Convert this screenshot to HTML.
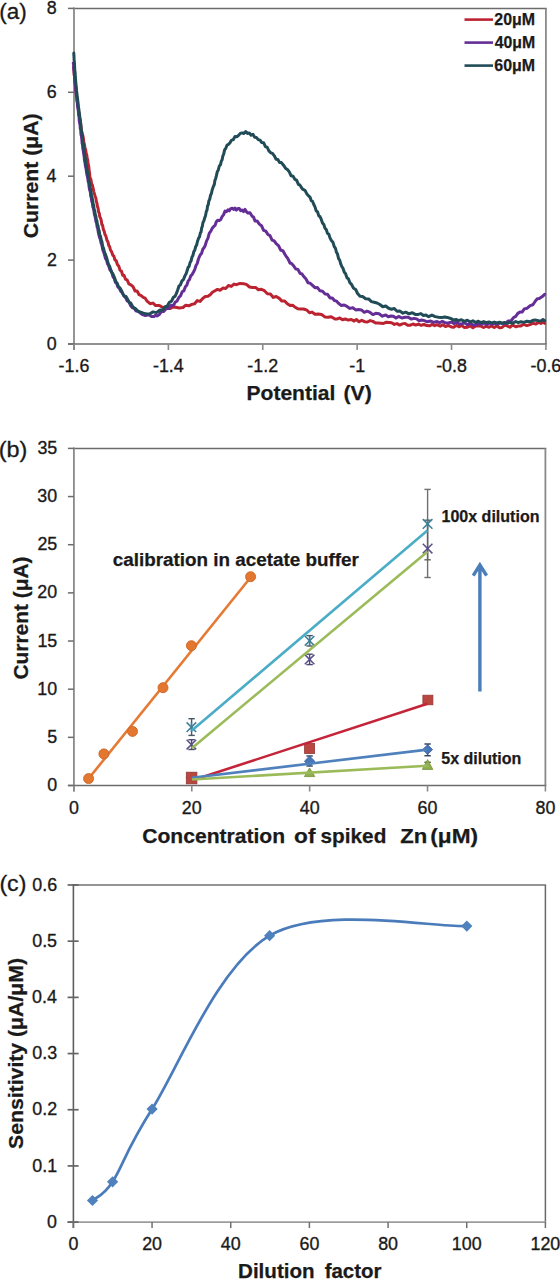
<!DOCTYPE html>
<html><head><meta charset="utf-8"><style>
html,body{margin:0;padding:0;background:#fff;overflow:hidden;width:560px;height:1280px;}
svg{display:block;}
text{font-family:"Liberation Sans",sans-serif;}
</style></head><body>
<svg width="560" height="1280" viewBox="0 0 560 1280" font-family="Liberation Sans, sans-serif">
<rect width="560" height="1280" fill="#fff"/>
<line x1="73.20" y1="8.40" x2="546.80" y2="8.40" stroke="#6c6c6c" stroke-width="1.5" />
<line x1="545.90" y1="8.40" x2="545.90" y2="344.00" stroke="#8a8a8a" stroke-width="1.8" />
<line x1="74.00" y1="7.60" x2="74.00" y2="350.00" stroke="#8a8a8a" stroke-width="1.8" />
<line x1="68.00" y1="344.00" x2="546.80" y2="344.00" stroke="#6c6c6c" stroke-width="1.6" />
<line x1="68.00" y1="344.00" x2="74.00" y2="344.00" stroke="#6c6c6c" stroke-width="1.5" />
<text x="46.77" y="349.60" font-size="18.9" font-weight="normal" textLength="9.93" lengthAdjust="spacingAndGlyphs" fill="#1a1a1a" stroke="#1a1a1a" stroke-width="0.35">0</text>
<line x1="68.00" y1="260.10" x2="74.00" y2="260.10" stroke="#6c6c6c" stroke-width="1.5" />
<text x="46.96" y="265.70" font-size="18.9" font-weight="normal" textLength="9.93" lengthAdjust="spacingAndGlyphs" fill="#1a1a1a" stroke="#1a1a1a" stroke-width="0.35">2</text>
<line x1="68.00" y1="176.20" x2="74.00" y2="176.20" stroke="#6c6c6c" stroke-width="1.5" />
<text x="46.59" y="181.80" font-size="18.9" font-weight="normal" textLength="9.93" lengthAdjust="spacingAndGlyphs" fill="#1a1a1a" stroke="#1a1a1a" stroke-width="0.35">4</text>
<line x1="68.00" y1="92.30" x2="74.00" y2="92.30" stroke="#6c6c6c" stroke-width="1.5" />
<text x="46.86" y="97.90" font-size="18.9" font-weight="normal" textLength="9.93" lengthAdjust="spacingAndGlyphs" fill="#1a1a1a" stroke="#1a1a1a" stroke-width="0.35">6</text>
<line x1="68.00" y1="8.40" x2="74.00" y2="8.40" stroke="#6c6c6c" stroke-width="1.5" />
<text x="46.84" y="14.00" font-size="18.9" font-weight="normal" textLength="9.93" lengthAdjust="spacingAndGlyphs" fill="#1a1a1a" stroke="#1a1a1a" stroke-width="0.35">8</text>
<line x1="74.00" y1="344.00" x2="74.00" y2="350.00" stroke="#8a8a8a" stroke-width="1.6" />
<text x="58.61" y="372.10" font-size="18.9" font-weight="normal" textLength="30.78" lengthAdjust="spacingAndGlyphs" fill="#1a1a1a" stroke="#1a1a1a" stroke-width="0.35">-1.6</text>
<line x1="168.38" y1="344.00" x2="168.38" y2="350.00" stroke="#8a8a8a" stroke-width="1.6" />
<text x="152.99" y="372.10" font-size="18.9" font-weight="normal" textLength="30.78" lengthAdjust="spacingAndGlyphs" fill="#1a1a1a" stroke="#1a1a1a" stroke-width="0.35">-1.4</text>
<line x1="262.76" y1="344.00" x2="262.76" y2="350.00" stroke="#8a8a8a" stroke-width="1.6" />
<text x="247.37" y="372.10" font-size="18.9" font-weight="normal" textLength="30.78" lengthAdjust="spacingAndGlyphs" fill="#1a1a1a" stroke="#1a1a1a" stroke-width="0.35">-1.2</text>
<line x1="357.14" y1="344.00" x2="357.14" y2="350.00" stroke="#8a8a8a" stroke-width="1.6" />
<text x="349.20" y="372.10" font-size="18.9" font-weight="normal" textLength="15.88" lengthAdjust="spacingAndGlyphs" fill="#1a1a1a" stroke="#1a1a1a" stroke-width="0.35">-1</text>
<line x1="451.52" y1="344.00" x2="451.52" y2="350.00" stroke="#8a8a8a" stroke-width="1.6" />
<text x="436.13" y="372.10" font-size="18.9" font-weight="normal" textLength="30.78" lengthAdjust="spacingAndGlyphs" fill="#1a1a1a" stroke="#1a1a1a" stroke-width="0.35">-0.8</text>
<line x1="545.90" y1="344.00" x2="545.90" y2="350.00" stroke="#8a8a8a" stroke-width="1.6" />
<text x="530.51" y="372.10" font-size="18.9" font-weight="normal" textLength="30.78" lengthAdjust="spacingAndGlyphs" fill="#1a1a1a" stroke="#1a1a1a" stroke-width="0.35">-0.6</text>
<polyline points="73.6,67.0 73.8,70.1 74.0,70.8 74.2,74.8 74.5,76.1 74.8,78.6 75.1,82.7 75.5,84.5 75.8,89.8 76.2,92.2 76.6,94.2 76.9,96.8 77.2,100.7 77.6,102.1 78.0,106.1 78.3,107.6 78.7,111.6 79.1,113.4 79.5,115.7 79.9,119.8 80.3,123.1 80.8,124.2 81.2,128.4 81.6,130.7 82.1,133.8 82.7,135.1 83.3,137.8 83.8,142.6 84.4,144.1 85.0,148.1 85.6,149.4 86.2,153.7 86.7,154.6 87.2,158.7 87.6,159.3 88.1,163.6 88.5,165.1 88.9,167.7 89.2,171.4 89.5,172.1 89.8,176.3 90.3,178.5 90.9,179.4 91.6,183.8 92.3,184.8 93.0,187.8 93.8,191.6 94.5,194.1 95.2,196.5 95.8,197.6 96.4,201.8 96.9,202.9 97.5,206.7 98.0,207.9 98.6,211.9 99.2,212.9 99.8,216.7 100.5,217.9 101.2,220.2 101.9,224.8 102.6,225.3 103.3,229.3 104.1,231.0 105.0,234.6 105.9,236.0 106.9,240.1 107.9,241.7 108.8,245.6 109.7,246.7 110.4,250.0 111.6,251.7 112.9,255.5 113.8,255.8 114.9,259.8 116.2,260.8 117.5,264.8 118.8,266.1 120.0,270.2 121.4,271.0 122.7,275.2 124.1,275.5 125.5,279.3 127.1,279.9 128.9,283.9 130.9,284.8 133.0,286.7 135.1,291.0 137.1,291.0 139.1,294.7 141.2,295.6 143.2,297.3 145.2,298.2 147.1,301.2 150.1,303.7 153.0,303.1 155.7,305.6 159.4,305.4 162.9,307.6 166.5,306.8 170.0,308.6 172.8,306.9 175.7,307.3 179.2,307.9 183.0,307.5 185.8,305.2 188.9,305.8 191.8,304.4 194.6,303.7 197.3,300.6 200.0,301.4 202.7,298.4 205.3,296.6 207.9,296.3 210.2,294.7 212.4,292.2 215.0,290.7 217.4,289.4 220.1,290.2 222.9,288.1 225.7,288.5 228.5,285.5 231.3,286.4 234.0,284.1 236.4,284.7 240.1,283.4 243.6,283.7 246.4,284.4 249.5,287.0 252.5,287.4 255.5,287.4 258.4,289.7 261.4,289.3 264.4,290.7 267.4,293.7 270.4,294.1 273.3,297.4 276.2,296.5 279.3,298.4 281.9,301.1 284.6,301.0 287.3,303.8 290.0,305.4 292.6,305.2 295.2,307.3 297.7,308.8 300.0,308.9 303.6,309.0 307.0,310.2 309.5,312.8 312.1,312.1 315.0,314.3 318.2,314.0 321.6,314.6 325.0,316.9 328.1,317.3 331.2,316.7 335.0,319.0 337.3,318.9 339.8,317.9 342.5,319.8 345.3,319.0 348.3,320.1 351.4,319.6 353.8,321.1 356.4,319.5 359.1,321.8 361.8,320.3 364.6,321.7 367.4,322.0 370.2,320.6 372.9,321.4 375.6,323.0 378.3,323.1 380.9,323.2 383.6,323.4 386.3,322.2 389.0,322.4 391.6,322.8 394.3,324.4 397.0,323.6 399.7,325.1 402.3,323.9 405.0,323.4 407.7,325.2 410.4,325.2 413.0,324.0 415.7,325.1 418.4,324.1 421.2,325.3 424.0,324.5 426.8,325.6 429.5,325.8 432.2,324.4 434.7,325.7 437.0,324.7 440.2,326.2 442.9,324.7 445.5,326.6 448.2,325.4 451.4,326.9 453.7,327.3 456.3,325.4 458.9,326.8 461.7,325.4 464.5,327.6 467.4,327.3 470.2,325.7 472.9,327.7 475.6,326.0 478.3,325.8 480.9,326.1 483.6,327.5 486.3,326.1 489.0,327.3 491.6,325.9 494.3,327.6 496.9,325.8 499.5,327.8 502.0,327.4 504.5,325.4 507.1,325.9 509.8,327.2 512.7,325.0 515.7,326.8 518.2,326.1 520.9,325.9 523.8,324.3 526.9,325.6 530.0,324.6 533.0,323.2 535.9,324.1 538.6,322.3 541.0,323.4 543.0,322.3 544.6,323.3" fill="none" stroke="#bc2330" stroke-width="3.0" stroke-linejoin="round" stroke-linecap="round" />
<polyline points="73.3,63.0 73.4,63.2 73.6,64.8 73.8,68.6 74.0,69.9 74.3,74.1 74.5,76.1 74.8,81.0 75.1,84.0 75.5,86.2 75.8,90.3 76.1,91.9 76.3,95.9 76.6,96.9 76.9,100.6 77.3,102.7 77.6,106.9 77.9,108.3 78.3,110.7 78.6,115.4 79.0,116.4 79.3,121.1 79.7,123.2 80.0,124.6 80.3,128.7 80.7,129.9 81.0,134.8 81.4,135.8 81.8,139.0 82.1,143.5 82.5,144.6 82.8,148.5 83.2,150.2 83.5,152.6 83.9,155.0 84.2,157.0 84.5,160.7 85.0,162.6 85.5,166.6 85.9,167.7 86.4,171.4 86.8,174.1 87.3,176.0 87.7,177.6 88.2,181.5 88.7,183.0 89.2,187.6 89.7,190.3 90.3,191.8 90.8,196.5 91.3,197.7 91.8,201.6 92.3,202.3 92.8,206.8 93.3,208.0 93.9,210.6 94.4,214.4 94.9,215.8 95.5,218.3 96.0,221.8 96.6,222.9 97.1,226.9 97.7,228.2 98.3,232.3 98.9,234.9 99.6,237.6 100.3,239.1 101.0,242.8 101.6,244.2 102.2,246.8 102.8,249.9 103.8,252.4 104.5,254.7 105.5,258.6 106.5,259.8 107.5,263.7 108.7,265.8 110.0,270.1 111.0,270.5 112.0,272.9 113.1,277.1 114.2,278.2 115.3,282.2 116.5,283.1 117.9,286.9 119.4,288.3 120.9,291.5 122.4,292.9 123.8,295.9 125.5,297.5 127.3,301.0 128.9,301.7 130.5,305.5 132.4,307.7 134.2,308.1 136.0,310.9 138.9,311.8 142.0,314.4 145.3,315.6 148.6,314.7 151.5,316.5 154.0,316.6 155.6,315.2 157.1,316.0 159.0,314.8 161.4,311.5 163.7,311.4 166.3,308.5 168.6,308.4 171.2,305.3 173.6,305.4 175.3,302.0 177.0,301.2 178.9,297.3 180.5,295.9 182.2,291.8 183.8,290.9 185.4,286.8 186.8,285.3 188.1,281.1 189.4,279.7 190.7,275.9 192.1,274.4 193.5,272.0 194.8,269.3 196.1,265.2 197.2,263.5 198.3,259.5 199.3,256.9 200.4,254.6 201.6,253.4 202.8,249.2 204.0,247.7 205.0,246.0 206.6,240.9 207.9,238.4 209.3,233.2 210.7,231.4 212.2,228.3 213.6,226.6 215.0,225.4 216.4,221.6 217.9,220.2 219.3,220.6 220.7,219.6 222.1,216.7 223.5,214.9 225.0,211.1 226.5,211.7 227.9,209.8 229.3,210.8 230.7,208.6 232.2,208.3 233.6,209.4 235.0,208.0 236.4,210.1 237.9,208.4 239.3,208.5 240.7,210.8 242.1,210.0 243.5,211.6 245.0,209.4 246.4,211.7 247.9,213.1 250.0,212.8 252.1,216.2 253.5,217.1 255.0,220.9 257.1,220.9 259.3,224.1 261.5,225.7 263.6,230.3 265.8,231.1 267.9,234.5 270.0,235.6 272.1,240.1 274.2,240.9 276.4,243.9 278.5,245.6 280.7,250.2 282.8,250.6 285.0,254.5 286.4,256.6 287.9,258.7 290.0,263.0 291.7,263.7 293.6,265.8 295.8,269.0 297.9,269.4 300.0,273.3 302.0,274.0 304.0,276.8 306.0,279.0 308.0,282.7 310.0,283.1 312.5,285.3 315.0,287.7 317.5,287.6 320.0,290.8 322.5,291.2 325.1,294.0 327.6,294.3 330.0,297.9 332.3,298.0 334.4,300.5 336.5,301.1 338.6,303.4 341.4,305.5 344.2,305.0 347.0,306.4 349.9,308.4 352.8,307.8 355.7,309.9 358.6,309.5 361.4,309.9 364.3,312.3 367.0,311.2 369.7,312.2 372.9,314.6 375.8,313.3 379.0,313.7 382.4,316.2 385.7,314.9 388.3,316.7 390.9,316.0 393.4,316.2 396.0,318.1 398.6,316.4 401.8,318.0 405.0,317.3 408.2,317.2 411.4,319.1 414.0,318.4 416.6,318.9 419.1,320.8 421.7,320.0 424.3,320.6 427.4,321.8 430.6,321.0 433.7,322.4 437.0,321.5 439.7,322.7 442.3,321.3 445.0,322.7 448.0,323.0 451.4,322.1 453.7,323.6 456.3,322.0 458.9,323.7 461.7,323.9 464.5,322.8 467.4,324.7 470.2,323.1 472.9,325.0 475.6,325.0 478.4,323.4 481.3,324.4 484.1,322.9 486.8,324.9 489.5,322.8 492.0,324.3 494.3,323.3 497.6,324.0 500.6,322.8 503.3,323.4 505.8,323.4 508.0,321.0 511.0,321.0 513.3,317.8 515.7,316.4 517.8,313.4 519.9,312.1 522.1,312.1 524.3,308.9 527.2,308.2 530.2,305.6 532.9,304.8 535.2,301.3 537.3,298.8 539.3,298.6 542.3,296.6 544.6,294.4" fill="none" stroke="#652d96" stroke-width="3.0" stroke-linejoin="round" stroke-linecap="round" />
<polyline points="73.8,53.0 73.9,56.0 74.0,56.7 74.1,60.2 74.3,61.2 74.5,63.6 74.6,66.4 74.8,70.5 75.1,72.1 75.3,77.0 75.5,78.8 75.8,83.0 76.0,84.8 76.3,87.3 76.6,91.5 76.8,92.2 77.1,96.7 77.4,97.4 77.8,100.7 78.1,104.2 78.4,107.1 78.8,108.6 79.1,112.4 79.5,113.7 79.8,118.1 80.1,118.8 80.5,121.4 80.8,125.4 81.2,128.8 81.5,131.4 81.9,133.1 82.3,135.7 82.6,139.7 83.0,143.3 83.4,144.2 83.7,148.3 84.1,149.7 84.4,152.8 84.8,155.9 85.1,157.3 85.4,159.0 85.9,164.5 86.4,166.0 86.8,169.3 87.3,170.6 87.7,173.8 88.1,174.6 88.5,179.0 89.0,181.6 89.5,183.2 90.0,187.6 90.5,189.0 91.1,192.1 91.6,196.5 92.1,197.7 92.6,200.1 93.1,203.7 93.6,205.2 94.1,209.3 94.7,210.7 95.2,214.3 95.7,215.6 96.3,219.5 96.9,220.9 97.4,224.8 98.0,225.7 98.6,229.4 99.2,230.9 99.8,234.8 100.5,236.2 101.2,239.9 101.9,241.5 102.5,245.4 103.2,247.8 103.7,248.7 104.6,252.8 105.3,253.9 106.2,256.4 106.9,258.7 107.8,262.3 108.7,264.7 109.6,266.2 110.7,269.8 111.6,272.5 112.7,273.5 113.7,275.7 114.8,278.4 116.0,281.9 117.1,283.1 118.5,286.7 120.0,287.9 121.4,290.4 122.9,294.0 124.3,296.0 126.0,296.4 127.6,299.2 129.2,302.6 130.7,302.9 133.2,307.4 135.7,308.9 138.5,311.5 141.4,312.4 144.2,313.6 147.0,314.0 149.9,313.8 153.0,311.9 156.4,312.6 160.0,310.0 162.4,310.3 164.8,306.9 167.1,306.3 169.4,302.3 171.5,301.2 173.6,297.0 175.0,296.3 176.3,293.6 177.6,290.2 178.9,286.2 180.4,284.9 181.9,281.0 183.4,279.7 184.8,276.1 186.0,274.1 187.1,270.7 188.1,267.4 189.1,266.4 190.1,262.5 191.0,261.1 192.0,257.1 192.9,255.6 193.8,251.6 194.8,250.2 195.7,246.5 196.6,245.1 197.6,241.0 198.6,238.2 199.5,236.9 200.4,232.8 201.1,231.8 201.7,227.8 202.3,226.4 203.0,222.3 203.8,221.2 204.6,218.1 205.5,215.7 206.3,211.4 207.0,210.3 207.6,205.8 208.2,204.9 208.9,200.7 209.7,199.4 210.5,195.4 211.4,193.5 212.1,190.3 213.3,186.6 214.3,184.5 215.0,179.9 215.6,178.9 216.4,175.7 217.3,171.7 218.4,169.7 219.3,166.0 220.4,164.9 221.4,160.8 222.1,159.9 222.9,155.7 223.6,154.4 224.6,149.9 225.7,148.5 227.1,145.0 228.6,144.3 230.0,142.7 231.4,140.3 233.2,139.7 235.0,136.4 236.8,136.7 238.6,135.4 240.3,133.4 242.1,132.9 243.9,133.5 245.7,131.6 247.5,133.4 249.3,133.1 251.1,135.2 252.9,134.2 254.7,137.3 256.4,137.4 258.2,139.6 260.0,140.1 261.8,142.6 263.6,142.7 265.4,146.7 267.1,147.1 268.9,150.9 270.7,152.8 272.5,153.4 274.3,155.8 276.1,159.3 277.9,159.5 279.6,162.6 281.4,162.6 283.5,165.2 285.7,168.4 287.4,169.5 289.3,171.9 291.1,175.8 293.1,176.2 295.0,179.4 296.7,180.4 298.4,184.4 300.0,185.2 302.5,189.1 305.0,190.3 306.7,193.7 308.3,195.6 310.0,197.1 311.2,200.6 312.5,201.3 313.8,204.5 315.0,206.9 316.2,210.9 317.5,211.7 318.8,215.9 320.0,216.6 321.2,219.2 322.5,222.9 323.8,224.4 325.0,228.3 326.3,229.6 327.5,233.4 328.8,234.1 330.0,237.9 331.5,240.7 332.9,242.1 334.3,246.7 335.4,248.1 336.5,252.3 337.5,254.1 338.6,258.6 339.7,260.1 340.8,264.1 341.8,266.5 342.9,268.1 344.3,272.2 345.6,273.7 347.0,277.9 348.4,278.7 349.9,282.8 351.4,284.2 353.6,288.3 355.7,289.5 357.6,293.6 360.0,296.3 362.6,296.5 365.6,298.7 368.6,298.9 371.4,301.6 374.2,302.3 377.0,303.0 379.9,304.5 382.8,306.8 385.7,306.0 388.6,308.3 391.4,309.2 394.3,308.5 397.0,311.3 399.7,310.9 402.9,313.2 405.8,312.2 409.0,313.8 412.4,312.7 415.7,314.6 418.3,314.4 420.9,313.6 423.4,315.5 426.0,315.0 428.6,316.7 431.9,315.1 435.2,316.6 438.4,317.2 441.4,317.6 444.5,317.0 447.3,317.4 451.4,318.7 453.5,320.3 456.0,319.5 458.6,320.6 461.4,319.8 464.3,321.4 467.3,320.2 470.1,321.8 472.9,320.8 475.6,322.6 478.3,321.2 480.9,322.6 483.6,321.6 486.3,322.7 489.0,321.9 491.6,322.9 494.3,322.1 496.9,323.0 499.5,322.2 502.0,323.4 504.5,322.4 507.1,323.4 509.8,322.4 512.7,323.2 515.7,321.5 518.2,322.7 520.9,321.7 523.8,322.4 526.9,321.2 530.0,321.8 533.0,320.3 535.9,320.1 538.6,320.8 541.0,320.9 543.0,319.5 544.6,320.7" fill="none" stroke="#204b57" stroke-width="3.0" stroke-linejoin="round" stroke-linecap="round" />
<line x1="464.50" y1="19.60" x2="493.00" y2="19.60" stroke="#bc2330" stroke-width="2.6" />
<text x="494.34" y="24.60" font-size="16" font-weight="bold" textLength="40.73" lengthAdjust="spacingAndGlyphs" fill="#1a1a1a" stroke="#1a1a1a" stroke-width="0.25">20μM</text>
<line x1="464.50" y1="42.60" x2="493.00" y2="42.60" stroke="#652d96" stroke-width="2.6" />
<text x="494.66" y="47.60" font-size="16" font-weight="bold" textLength="40.40" lengthAdjust="spacingAndGlyphs" fill="#1a1a1a" stroke="#1a1a1a" stroke-width="0.25">40μM</text>
<line x1="464.50" y1="65.60" x2="493.00" y2="65.60" stroke="#204b57" stroke-width="2.6" />
<text x="494.31" y="70.60" font-size="16" font-weight="bold" textLength="40.76" lengthAdjust="spacingAndGlyphs" fill="#1a1a1a" stroke="#1a1a1a" stroke-width="0.25">60μM</text>
<text x="-0.69" y="18.60" font-size="22" font-weight="normal" textLength="27.49" lengthAdjust="spacingAndGlyphs" fill="#1a1a1a" stroke="#1a1a1a" stroke-width="0.3">(a)</text>
<text transform="translate(38.20,0) rotate(-90)" x="-238.37" y="0" font-size="20.6" font-weight="bold" textLength="125.04" lengthAdjust="spacingAndGlyphs" fill="#1a1a1a" stroke="#1a1a1a" stroke-width="0.25">Current (μA)</text>
<text x="246.49" y="400.30" font-size="20.6" font-weight="bold" textLength="88.90" lengthAdjust="spacingAndGlyphs" fill="#1a1a1a" stroke="#1a1a1a" stroke-width="0.25">Potential</text>
<text x="343.54" y="400.30" font-size="20.6" font-weight="bold" textLength="28.22" lengthAdjust="spacingAndGlyphs" fill="#1a1a1a" stroke="#1a1a1a" stroke-width="0.25">(V)</text>
<line x1="73.10" y1="448.40" x2="546.30" y2="448.40" stroke="#6c6c6c" stroke-width="1.5" />
<line x1="545.40" y1="448.40" x2="545.40" y2="785.50" stroke="#8a8a8a" stroke-width="1.8" />
<line x1="73.90" y1="447.60" x2="73.90" y2="791.50" stroke="#8a8a8a" stroke-width="1.8" />
<line x1="67.90" y1="785.50" x2="546.30" y2="785.50" stroke="#6c6c6c" stroke-width="1.6" />
<line x1="67.90" y1="785.50" x2="73.90" y2="785.50" stroke="#6c6c6c" stroke-width="1.5" />
<text x="47.27" y="791.10" font-size="18.9" font-weight="normal" textLength="9.93" lengthAdjust="spacingAndGlyphs" fill="#1a1a1a" stroke="#1a1a1a" stroke-width="0.35">0</text>
<line x1="67.90" y1="737.34" x2="73.90" y2="737.34" stroke="#6c6c6c" stroke-width="1.5" />
<text x="47.32" y="742.94" font-size="18.9" font-weight="normal" textLength="9.93" lengthAdjust="spacingAndGlyphs" fill="#1a1a1a" stroke="#1a1a1a" stroke-width="0.35">5</text>
<line x1="67.90" y1="689.19" x2="73.90" y2="689.19" stroke="#6c6c6c" stroke-width="1.5" />
<text x="37.34" y="694.79" font-size="18.9" font-weight="normal" textLength="19.87" lengthAdjust="spacingAndGlyphs" fill="#1a1a1a" stroke="#1a1a1a" stroke-width="0.35">10</text>
<line x1="67.90" y1="641.03" x2="73.90" y2="641.03" stroke="#6c6c6c" stroke-width="1.5" />
<text x="37.39" y="646.63" font-size="18.9" font-weight="normal" textLength="19.87" lengthAdjust="spacingAndGlyphs" fill="#1a1a1a" stroke="#1a1a1a" stroke-width="0.35">15</text>
<line x1="67.90" y1="592.87" x2="73.90" y2="592.87" stroke="#6c6c6c" stroke-width="1.5" />
<text x="37.34" y="598.47" font-size="18.9" font-weight="normal" textLength="19.87" lengthAdjust="spacingAndGlyphs" fill="#1a1a1a" stroke="#1a1a1a" stroke-width="0.35">20</text>
<line x1="67.90" y1="544.71" x2="73.90" y2="544.71" stroke="#6c6c6c" stroke-width="1.5" />
<text x="37.39" y="550.31" font-size="18.9" font-weight="normal" textLength="19.87" lengthAdjust="spacingAndGlyphs" fill="#1a1a1a" stroke="#1a1a1a" stroke-width="0.35">25</text>
<line x1="67.90" y1="496.56" x2="73.90" y2="496.56" stroke="#6c6c6c" stroke-width="1.5" />
<text x="37.34" y="502.16" font-size="18.9" font-weight="normal" textLength="19.87" lengthAdjust="spacingAndGlyphs" fill="#1a1a1a" stroke="#1a1a1a" stroke-width="0.35">30</text>
<line x1="67.90" y1="448.40" x2="73.90" y2="448.40" stroke="#6c6c6c" stroke-width="1.5" />
<text x="37.39" y="454.00" font-size="18.9" font-weight="normal" textLength="19.87" lengthAdjust="spacingAndGlyphs" fill="#1a1a1a" stroke="#1a1a1a" stroke-width="0.35">35</text>
<line x1="73.90" y1="785.50" x2="73.90" y2="791.50" stroke="#8a8a8a" stroke-width="1.6" />
<text x="68.93" y="814.10" font-size="18.9" font-weight="normal" textLength="9.93" lengthAdjust="spacingAndGlyphs" fill="#1a1a1a" stroke="#1a1a1a" stroke-width="0.35">0</text>
<line x1="191.78" y1="785.50" x2="191.78" y2="791.50" stroke="#8a8a8a" stroke-width="1.6" />
<text x="181.84" y="814.10" font-size="18.9" font-weight="normal" textLength="19.87" lengthAdjust="spacingAndGlyphs" fill="#1a1a1a" stroke="#1a1a1a" stroke-width="0.35">20</text>
<line x1="309.65" y1="785.50" x2="309.65" y2="791.50" stroke="#8a8a8a" stroke-width="1.6" />
<text x="299.72" y="814.10" font-size="18.9" font-weight="normal" textLength="19.87" lengthAdjust="spacingAndGlyphs" fill="#1a1a1a" stroke="#1a1a1a" stroke-width="0.35">40</text>
<line x1="427.52" y1="785.50" x2="427.52" y2="791.50" stroke="#8a8a8a" stroke-width="1.6" />
<text x="417.59" y="814.10" font-size="18.9" font-weight="normal" textLength="19.87" lengthAdjust="spacingAndGlyphs" fill="#1a1a1a" stroke="#1a1a1a" stroke-width="0.35">60</text>
<line x1="545.40" y1="785.50" x2="545.40" y2="791.50" stroke="#8a8a8a" stroke-width="1.6" />
<text x="535.47" y="814.10" font-size="18.9" font-weight="normal" textLength="19.87" lengthAdjust="spacingAndGlyphs" fill="#1a1a1a" stroke="#1a1a1a" stroke-width="0.35">80</text>
<line x1="88.60" y1="778.60" x2="251.10" y2="576.80" stroke="#e57a34" stroke-width="2.6" />
<circle cx="88.6" cy="778.6" r="5.0" fill="#e3772f" stroke="#cc6527" stroke-width="0.9"/>
<circle cx="103.9" cy="753.9" r="5.0" fill="#e3772f" stroke="#cc6527" stroke-width="0.9"/>
<circle cx="132.5" cy="731.4" r="5.0" fill="#e3772f" stroke="#cc6527" stroke-width="0.9"/>
<circle cx="163.0" cy="687.7" r="5.0" fill="#e3772f" stroke="#cc6527" stroke-width="0.9"/>
<circle cx="191.4" cy="645.7" r="5.0" fill="#e3772f" stroke="#cc6527" stroke-width="0.9"/>
<circle cx="250.6" cy="576.7" r="5.0" fill="#e3772f" stroke="#cc6527" stroke-width="0.9"/>
<line x1="191.60" y1="718.70" x2="191.60" y2="735.40" stroke="#4a5868" stroke-width="1.4" />
<line x1="188.40" y1="718.70" x2="194.80" y2="718.70" stroke="#4a5868" stroke-width="1.4" />
<line x1="188.40" y1="735.40" x2="194.80" y2="735.40" stroke="#4a5868" stroke-width="1.4" />
<line x1="186.60" y1="722.40" x2="196.20" y2="732.00" stroke="#3d7f95" stroke-width="1.5" />
<line x1="186.60" y1="732.00" x2="196.20" y2="722.40" stroke="#3d7f95" stroke-width="1.5" />
<line x1="191.40" y1="722.40" x2="191.40" y2="732.00" stroke="#3d7f95" stroke-width="1.5" />
<line x1="191.60" y1="739.70" x2="191.60" y2="749.50" stroke="#4a4a70" stroke-width="1.4" />
<line x1="188.40" y1="739.70" x2="194.80" y2="739.70" stroke="#4a4a70" stroke-width="1.4" />
<line x1="188.40" y1="749.50" x2="194.80" y2="749.50" stroke="#4a4a70" stroke-width="1.4" />
<line x1="186.60" y1="739.80" x2="196.20" y2="749.40" stroke="#5b4f8a" stroke-width="1.5" />
<line x1="186.60" y1="749.40" x2="196.20" y2="739.80" stroke="#5b4f8a" stroke-width="1.5" />
<path d="M191.4,775 l5.2,8.5 h-10.4z" fill="#9bbb59"/>
<path d="M191.4,772.5 l5,5 l-5,5 l-5,-5z" fill="#4f81bd" stroke="#35609a" stroke-width="0.8"/>
<rect x="186.3" y="772.2" width="10.6" height="11.6" fill="#b9473f" stroke="#933838" stroke-width="0.8"/>
<line x1="309.60" y1="635.60" x2="309.60" y2="646.00" stroke="#4a5868" stroke-width="1.4" />
<line x1="306.40" y1="635.60" x2="312.80" y2="635.60" stroke="#4a5868" stroke-width="1.4" />
<line x1="306.40" y1="646.00" x2="312.80" y2="646.00" stroke="#4a5868" stroke-width="1.4" />
<line x1="304.80" y1="636.00" x2="314.40" y2="645.60" stroke="#3d7f95" stroke-width="1.5" />
<line x1="304.80" y1="645.60" x2="314.40" y2="636.00" stroke="#3d7f95" stroke-width="1.5" />
<line x1="309.60" y1="636.00" x2="309.60" y2="645.60" stroke="#3d7f95" stroke-width="1.5" />
<line x1="309.60" y1="654.20" x2="309.60" y2="664.60" stroke="#4a4a70" stroke-width="1.4" />
<line x1="306.40" y1="654.20" x2="312.80" y2="654.20" stroke="#4a4a70" stroke-width="1.4" />
<line x1="306.40" y1="664.60" x2="312.80" y2="664.60" stroke="#4a4a70" stroke-width="1.4" />
<line x1="304.80" y1="654.60" x2="314.40" y2="664.20" stroke="#5b4f8a" stroke-width="1.5" />
<line x1="304.80" y1="664.20" x2="314.40" y2="654.60" stroke="#5b4f8a" stroke-width="1.5" />
<rect x="304.6" y="743.5" width="10" height="10" fill="#b9473f" stroke="#933838" stroke-width="0.8"/>
<line x1="309.60" y1="756.00" x2="309.60" y2="766.00" stroke="#2e3d5c" stroke-width="1.4" />
<line x1="306.40" y1="756.00" x2="312.80" y2="756.00" stroke="#2e3d5c" stroke-width="1.4" />
<line x1="306.40" y1="766.00" x2="312.80" y2="766.00" stroke="#2e3d5c" stroke-width="1.4" />
<path d="M309.6,756 l5.2,5.2 l-5.2,5.2 l-5.2,-5.2z" fill="#4676b8" stroke="#35609a" stroke-width="0.8"/>
<path d="M309.6,768 l5.2,8.6 h-10.4z" fill="#8fb04e" stroke="#6f8f38" stroke-width="0.8"/>
<line x1="427.60" y1="489.40" x2="427.60" y2="577.50" stroke="#707070" stroke-width="1.4" />
<line x1="424.40" y1="489.40" x2="430.80" y2="489.40" stroke="#707070" stroke-width="1.4" />
<line x1="424.40" y1="577.50" x2="430.80" y2="577.50" stroke="#707070" stroke-width="1.4" />
<line x1="427.60" y1="520.20" x2="427.60" y2="559.80" stroke="#606060" stroke-width="1.4" />
<line x1="424.40" y1="520.20" x2="430.80" y2="520.20" stroke="#606060" stroke-width="1.4" />
<line x1="424.40" y1="559.80" x2="430.80" y2="559.80" stroke="#606060" stroke-width="1.4" />
<line x1="422.80" y1="519.10" x2="432.40" y2="528.70" stroke="#3d7f95" stroke-width="1.5" />
<line x1="422.80" y1="528.70" x2="432.40" y2="519.10" stroke="#3d7f95" stroke-width="1.5" />
<line x1="427.60" y1="519.10" x2="427.60" y2="528.70" stroke="#3d7f95" stroke-width="1.5" />
<line x1="422.80" y1="543.80" x2="432.40" y2="553.40" stroke="#5b4f8a" stroke-width="1.5" />
<line x1="422.80" y1="553.40" x2="432.40" y2="543.80" stroke="#5b4f8a" stroke-width="1.5" />
<rect x="422.9" y="695.2" width="10" height="9.6" fill="#b9473f" stroke="#933838" stroke-width="0.8"/>
<line x1="427.60" y1="744.00" x2="427.60" y2="755.75" stroke="#2e3d5c" stroke-width="1.4" />
<line x1="424.40" y1="744.00" x2="430.80" y2="744.00" stroke="#2e3d5c" stroke-width="1.4" />
<line x1="424.40" y1="755.75" x2="430.80" y2="755.75" stroke="#2e3d5c" stroke-width="1.4" />
<path d="M427.6,744.8 l5,4.8 l-5,4.8 l-5,-4.8z" fill="#4676b8" stroke="#35609a" stroke-width="0.8"/>
<line x1="427.60" y1="762.30" x2="427.60" y2="767.00" stroke="#4a5a2a" stroke-width="1.4" />
<line x1="424.40" y1="762.30" x2="430.80" y2="762.30" stroke="#4a5a2a" stroke-width="1.4" />
<line x1="424.40" y1="767.00" x2="430.80" y2="767.00" stroke="#4a5a2a" stroke-width="1.4" />
<path d="M427.6,759.6 l5.2,9.8 h-10.4z" fill="#8fb04e" stroke="#6f8f38" stroke-width="0.8"/>
<line x1="191.80" y1="730.50" x2="427.40" y2="530.40" stroke="#4bacc6" stroke-width="2.6" />
<line x1="191.80" y1="748.20" x2="427.40" y2="551.80" stroke="#9bbb59" stroke-width="2.6" />
<line x1="191.80" y1="780.50" x2="427.40" y2="703.80" stroke="#c4243a" stroke-width="2.6" />
<line x1="191.80" y1="777.80" x2="427.40" y2="749.60" stroke="#4f81bd" stroke-width="2.6" />
<line x1="191.80" y1="779.50" x2="427.40" y2="765.70" stroke="#9bbb59" stroke-width="2.6" />
<path d="M479.9,691.5 V565.5 M473.2,575.6 L479.9,565 L486.6,575.6" fill="none" stroke="#4a7ebb" stroke-width="3.4" stroke-linecap="butt" stroke-linejoin="miter"/>
<text x="112.87" y="566.10" font-size="17.6" font-weight="bold" textLength="246.01" lengthAdjust="spacingAndGlyphs" fill="#1a1a1a" stroke="#1a1a1a" stroke-width="0.25">calibration in acetate buffer</text>
<text x="441.49" y="522.20" font-size="16" font-weight="bold" textLength="98.01" lengthAdjust="spacingAndGlyphs" fill="#1a1a1a" stroke="#1a1a1a" stroke-width="0.25">100x dilution</text>
<text x="441.30" y="764.10" font-size="16" font-weight="bold" textLength="80.09" lengthAdjust="spacingAndGlyphs" fill="#1a1a1a" stroke="#1a1a1a" stroke-width="0.25">5x dilution</text>
<text x="-1.25" y="456.80" font-size="22" font-weight="normal" textLength="28.61" lengthAdjust="spacingAndGlyphs" fill="#1a1a1a" stroke="#1a1a1a" stroke-width="0.3">(b)</text>
<text transform="translate(28.30,0) rotate(-90)" x="-679.61" y="0" font-size="20.6" font-weight="bold" textLength="123.16" lengthAdjust="spacingAndGlyphs" fill="#1a1a1a" stroke="#1a1a1a" stroke-width="0.25">Current (μA)</text>
<text x="142.24" y="842.50" font-size="20.6" font-weight="bold" textLength="142.82" lengthAdjust="spacingAndGlyphs" fill="#1a1a1a" stroke="#1a1a1a" stroke-width="0.25">Concentration</text>
<text x="294.12" y="842.50" font-size="20.6" font-weight="bold" textLength="21.33" lengthAdjust="spacingAndGlyphs" fill="#1a1a1a" stroke="#1a1a1a" stroke-width="0.25">of</text>
<text x="320.52" y="842.50" font-size="20.6" font-weight="bold" textLength="65.85" lengthAdjust="spacingAndGlyphs" fill="#1a1a1a" stroke="#1a1a1a" stroke-width="0.25">spiked</text>
<text x="400.34" y="842.50" font-size="20.6" font-weight="bold" textLength="27.03" lengthAdjust="spacingAndGlyphs" fill="#1a1a1a" stroke="#1a1a1a" stroke-width="0.25">Zn</text>
<text x="430.27" y="842.50" font-size="20.6" font-weight="bold" textLength="47.76" lengthAdjust="spacingAndGlyphs" fill="#1a1a1a" stroke="#1a1a1a" stroke-width="0.25">(μM)</text>
<line x1="72.60" y1="885.00" x2="546.10" y2="885.00" stroke="#949494" stroke-width="1.9" />
<line x1="545.40" y1="885.00" x2="545.40" y2="1222.10" stroke="#6a6a6a" stroke-width="1.5" />
<line x1="73.40" y1="884.10" x2="73.40" y2="1228.10" stroke="#5e5e5e" stroke-width="1.6" />
<line x1="67.40" y1="1222.10" x2="546.10" y2="1222.10" stroke="#9c9c9c" stroke-width="1.9" />
<line x1="67.60" y1="1222.10" x2="78.60" y2="1222.10" stroke="#646464" stroke-width="1.7" />
<text x="47.07" y="1227.70" font-size="18.9" font-weight="normal" textLength="9.93" lengthAdjust="spacingAndGlyphs" fill="#1a1a1a" stroke="#1a1a1a" stroke-width="0.35">0</text>
<line x1="67.60" y1="1165.92" x2="78.60" y2="1165.92" stroke="#646464" stroke-width="1.7" />
<text x="32.35" y="1171.52" font-size="18.9" font-weight="normal" textLength="24.83" lengthAdjust="spacingAndGlyphs" fill="#1a1a1a" stroke="#1a1a1a" stroke-width="0.35">0.1</text>
<line x1="67.60" y1="1109.73" x2="78.60" y2="1109.73" stroke="#646464" stroke-width="1.7" />
<text x="32.37" y="1115.33" font-size="18.9" font-weight="normal" textLength="24.83" lengthAdjust="spacingAndGlyphs" fill="#1a1a1a" stroke="#1a1a1a" stroke-width="0.35">0.2</text>
<line x1="67.60" y1="1053.55" x2="78.60" y2="1053.55" stroke="#646464" stroke-width="1.7" />
<text x="32.26" y="1059.15" font-size="18.9" font-weight="normal" textLength="24.83" lengthAdjust="spacingAndGlyphs" fill="#1a1a1a" stroke="#1a1a1a" stroke-width="0.35">0.3</text>
<line x1="67.60" y1="997.37" x2="78.60" y2="997.37" stroke="#646464" stroke-width="1.7" />
<text x="31.99" y="1002.97" font-size="18.9" font-weight="normal" textLength="24.83" lengthAdjust="spacingAndGlyphs" fill="#1a1a1a" stroke="#1a1a1a" stroke-width="0.35">0.4</text>
<line x1="67.60" y1="941.18" x2="78.60" y2="941.18" stroke="#646464" stroke-width="1.7" />
<text x="32.22" y="946.78" font-size="18.9" font-weight="normal" textLength="24.83" lengthAdjust="spacingAndGlyphs" fill="#1a1a1a" stroke="#1a1a1a" stroke-width="0.35">0.5</text>
<line x1="67.60" y1="885.00" x2="78.60" y2="885.00" stroke="#646464" stroke-width="1.7" />
<text x="32.26" y="890.60" font-size="18.9" font-weight="normal" textLength="24.83" lengthAdjust="spacingAndGlyphs" fill="#1a1a1a" stroke="#1a1a1a" stroke-width="0.35">0.6</text>
<line x1="73.40" y1="1222.10" x2="73.40" y2="1228.10" stroke="#707070" stroke-width="1.5" />
<text x="68.43" y="1250.40" font-size="18.9" font-weight="normal" textLength="9.93" lengthAdjust="spacingAndGlyphs" fill="#1a1a1a" stroke="#1a1a1a" stroke-width="0.35">0</text>
<line x1="152.07" y1="1222.10" x2="152.07" y2="1228.10" stroke="#707070" stroke-width="1.5" />
<text x="142.13" y="1250.40" font-size="18.9" font-weight="normal" textLength="19.87" lengthAdjust="spacingAndGlyphs" fill="#1a1a1a" stroke="#1a1a1a" stroke-width="0.35">20</text>
<line x1="230.73" y1="1222.10" x2="230.73" y2="1228.10" stroke="#707070" stroke-width="1.5" />
<text x="220.80" y="1250.40" font-size="18.9" font-weight="normal" textLength="19.87" lengthAdjust="spacingAndGlyphs" fill="#1a1a1a" stroke="#1a1a1a" stroke-width="0.35">40</text>
<line x1="309.40" y1="1222.10" x2="309.40" y2="1228.10" stroke="#707070" stroke-width="1.5" />
<text x="299.47" y="1250.40" font-size="18.9" font-weight="normal" textLength="19.87" lengthAdjust="spacingAndGlyphs" fill="#1a1a1a" stroke="#1a1a1a" stroke-width="0.35">60</text>
<line x1="388.07" y1="1222.10" x2="388.07" y2="1228.10" stroke="#707070" stroke-width="1.5" />
<text x="378.13" y="1250.40" font-size="18.9" font-weight="normal" textLength="19.87" lengthAdjust="spacingAndGlyphs" fill="#1a1a1a" stroke="#1a1a1a" stroke-width="0.35">80</text>
<line x1="466.73" y1="1222.10" x2="466.73" y2="1228.10" stroke="#707070" stroke-width="1.5" />
<text x="451.83" y="1250.40" font-size="18.9" font-weight="normal" textLength="29.80" lengthAdjust="spacingAndGlyphs" fill="#1a1a1a" stroke="#1a1a1a" stroke-width="0.35">100</text>
<line x1="545.40" y1="1222.10" x2="545.40" y2="1228.10" stroke="#707070" stroke-width="1.5" />
<text x="530.50" y="1250.40" font-size="18.9" font-weight="normal" textLength="29.80" lengthAdjust="spacingAndGlyphs" fill="#1a1a1a" stroke="#1a1a1a" stroke-width="0.35">120</text>
<path d="M92.5,1200.5 C95.85,1197.38 102.67,1197.03 112.6,1181.8 C122.53,1166.57 125.93,1150.12 152.1,1109.1 C178.27,1068.08 217.15,966.20 269.6,935.7 C322.05,905.20 433.93,927.70 466.8,926.1" fill="none" stroke="#4a7bbb" stroke-width="2.7"/>
<path d="M92.5,1194.9 l5.6,5.6 l-5.6,5.6 l-5.6,-5.6z" fill="#4f81bd"/>
<path d="M112.6,1176.2 l5.6,5.6 l-5.6,5.6 l-5.6,-5.6z" fill="#4f81bd"/>
<path d="M152.1,1103.5 l5.6,5.6 l-5.6,5.6 l-5.6,-5.6z" fill="#4f81bd"/>
<path d="M269.6,930.1 l5.6,5.6 l-5.6,5.6 l-5.6,-5.6z" fill="#4f81bd"/>
<path d="M466.8,920.5 l5.6,5.6 l-5.6,5.6 l-5.6,-5.6z" fill="#4f81bd"/>
<text x="-0.63" y="891.00" font-size="22" font-weight="normal" textLength="26.97" lengthAdjust="spacingAndGlyphs" fill="#1a1a1a" stroke="#1a1a1a" stroke-width="0.3">(c)</text>
<text transform="translate(23.40,0) rotate(-90)" x="-1149.02" y="0" font-size="20.6" font-weight="bold" textLength="191.09" lengthAdjust="spacingAndGlyphs" fill="#1a1a1a" stroke="#1a1a1a" stroke-width="0.25">Sensitivity (μA/μM)</text>
<text x="238.02" y="1278.40" font-size="20.6" font-weight="bold" textLength="76.66" lengthAdjust="spacingAndGlyphs" fill="#1a1a1a" stroke="#1a1a1a" stroke-width="0.25">Dilution</text>
<text x="324.65" y="1278.40" font-size="20.6" font-weight="bold" textLength="56.91" lengthAdjust="spacingAndGlyphs" fill="#1a1a1a" stroke="#1a1a1a" stroke-width="0.25">factor</text>
</svg>
</body></html>
